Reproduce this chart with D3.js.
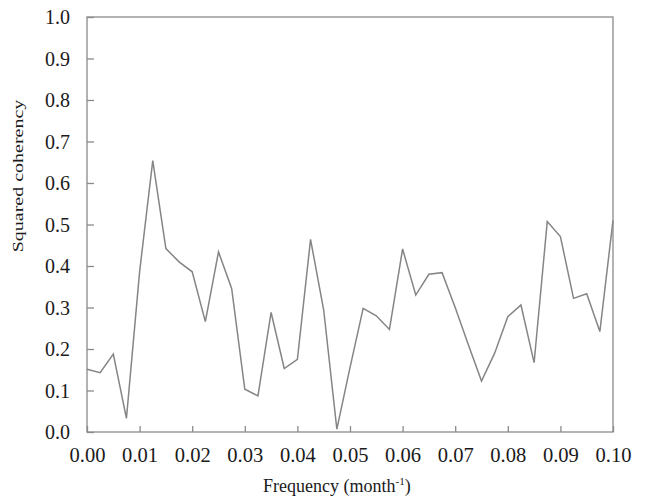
<!DOCTYPE html>
<html><head><meta charset="utf-8">
<script src="https://cdn.jsdelivr.net/npm/d3@7"></script>
<style>body{margin:0;background:#fff;}svg{display:block;}</style>
</head><body>
<svg id="c" width="649" height="499"></svg>
<script>
const frequency = [0.0000,0.0025,0.0050,0.0075,0.0100,0.0125,0.0150,0.0175,0.0200,0.0225,
  0.0250,0.0275,0.0300,0.0325,0.0350,0.0375,0.0400,0.0425,0.0450,0.0475,
  0.0500,0.0525,0.0550,0.0575,0.0600,0.0625,0.0650,0.0675,0.0700,0.0725,
  0.0750,0.0775,0.0800,0.0825,0.0850,0.0875,0.0900,0.0925,0.0950,0.0975,0.1000];
const coherency = [0.151,0.143,0.188,0.033,0.386,0.654,0.442,0.410,0.386,0.266,
  0.434,0.346,0.103,0.087,0.288,0.153,0.175,0.464,0.294,0.007,
  0.155,0.298,0.280,0.247,0.441,0.330,0.380,0.384,0.300,0.210,
  0.123,0.190,0.278,0.306,0.167,0.507,0.471,0.322,0.333,0.242,0.510];
const xTicks = [0,0.01,0.02,0.03,0.04,0.05,0.06,0.07,0.08,0.09,0.10];
const yTicks = [0,0.1,0.2,0.3,0.4,0.5,0.6,0.7,0.8,0.9,1.0];

const L=87, R=613, T=17, B=432;
const svg = d3.select('#c');
const x = d3.scaleLinear().domain([0,0.1]).range([L,R]);
const y = d3.scaleLinear().domain([0,1]).range([B,T]);
const axisCol = '#8a8a8a';
const font = '"Liberation Serif","Times New Roman",serif';

// frame
svg.append('rect').attr('x',L).attr('y',T).attr('width',R-L).attr('height',B-T)
  .attr('fill','none').attr('stroke',axisCol).attr('stroke-width',1.3);

// x axis
const xa = svg.append('g').attr('transform',`translate(0,${B})`)
  .call(d3.axisBottom(x).tickValues(xTicks).tickSizeInner(-6).tickSizeOuter(0).tickFormat(d3.format('.2f')));
xa.select('.domain').remove();
xa.selectAll('.tick line').attr('stroke',axisCol).attr('stroke-width',1.3);
xa.selectAll('.tick text').attr('y',30).attr('dy',0).attr('fill','#1a1a1a')
  .style('font-family',font).style('font-size','20px')
  .attr('textLength',36).attr('lengthAdjust','spacingAndGlyphs');

// y axis
const ya = svg.append('g').attr('transform',`translate(${L},0)`)
  .call(d3.axisLeft(y).tickValues(yTicks).tickSizeInner(-7).tickSizeOuter(0).tickFormat(d3.format('.1f')));
ya.select('.domain').remove();
ya.selectAll('.tick line').attr('stroke',axisCol).attr('stroke-width',1.3);
ya.selectAll('.tick text').attr('x',-17).attr('dy','0.34em').attr('fill','#1a1a1a')
  .style('font-family',font).style('font-size','20px')
  .attr('textLength',25).attr('lengthAdjust','spacingAndGlyphs');

// line
const line = d3.line().x((d,i)=>x(frequency[i])).y(d=>y(d));
svg.append('path').datum(coherency).attr('d',line)
  .attr('fill','none').attr('stroke','#858585').attr('stroke-width',1.5).attr('stroke-linejoin','miter');

// x title
const xt = svg.append('text').attr('x',263).attr('y',492).attr('fill','#1a1a1a')
  .style('font-family',font).style('font-size','18px');
xt.append('tspan').text('Frequency (month');
xt.append('tspan').attr('dy',-7).style('font-size','11px').text('-1');
xt.append('tspan').attr('dy',7).text(')');

// y title
svg.append('text').attr('transform','translate(23,176) rotate(-90) scale(1,0.72)')
  .attr('text-anchor','middle').attr('fill','#1a1a1a')
  .style('font-family',font).style('font-size','20px')
  .text('Squared coherency');
</script>
</body></html>
